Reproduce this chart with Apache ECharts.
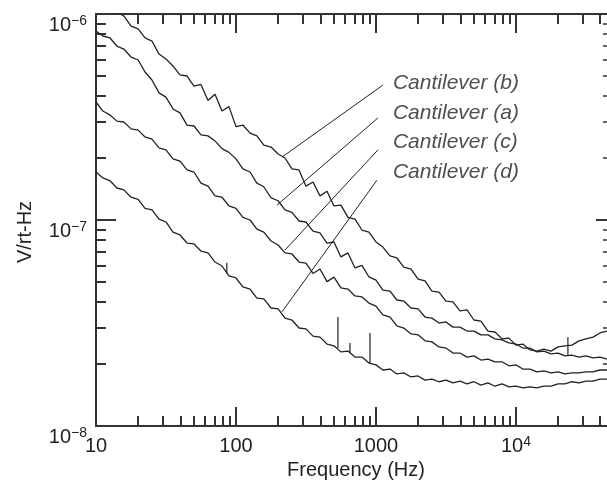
<!DOCTYPE html>
<html><head><meta charset="utf-8">
<script src="https://cdn.jsdelivr.net/npm/echarts@6/dist/echarts.min.js"></script>
<style>html,body{margin:0;padding:0;background:#fff}#c{width:607px;height:489px}</style>
</head><body><div id="c"></div>
<script>
// ---------- data ----------
const FREQ = [10,11.2,12.6,14.1,15.8,17.8,20,22.4,25.1,28.2,31.6,35.5,39.8,44.7,50.1,56.2,63.1,70.8,79.4,89.1,
 100,112,126,141,158,178,200,224,251,282,316,355,398,447,501,562,631,708,794,891,
 1000,1120,1260,1410,1580,1780,2000,2240,2510,2820,3160,3550,3980,4470,5010,5620,6310,7080,7940,8910,
 10000,11200,12600,14100,15800,17800,20000,22400,25100,28200,31600,35500,39800,44700];

const CANT_B = [1.26e-6,1.17e-6,1.12e-6,1.02e-6,9.78e-7,8.74e-7,8.46e-7,7.65e-7,7.39e-7,6.39e-7,
 6.05e-7,5.59e-7,5.06e-7,5.00e-7,4.47e-7,4.55e-7,3.80e-7,4.08e-7,3.38e-7,3.55e-7,
 2.84e-7,2.89e-7,2.64e-7,2.56e-7,2.31e-7,2.26e-7,2.09e-7,2.00e-7,1.77e-7,1.75e-7,
 1.46e-7,1.53e-7,1.31e-7,1.38e-7,1.17e-7,1.18e-7,1.03e-7,1.01e-7,8.94e-8,8.74e-8,
 7.82e-8,7.39e-8,6.69e-8,6.54e-8,5.91e-8,5.78e-8,5.17e-8,5.06e-8,4.52e-8,4.47e-8,
 4.04e-8,4.00e-8,3.62e-8,3.66e-8,3.27e-8,3.23e-8,2.89e-8,2.86e-8,2.65e-8,2.67e-8,
 2.47e-8,2.50e-8,2.34e-8,2.31e-8,2.36e-8,2.31e-8,2.42e-8,2.45e-8,2.47e-8,2.59e-8,
 2.65e-8,2.70e-8,2.83e-8,2.89e-8];

const CANT_A = [8.27e-7,7.82e-7,7.65e-7,6.99e-7,6.76e-7,6.18e-7,5.98e-7,5.23e-7,4.78e-7,4.14e-7,
 3.95e-7,3.46e-7,3.31e-7,2.89e-7,2.86e-7,2.59e-7,2.56e-7,2.42e-7,2.22e-7,2.13e-7,
 1.98e-7,1.77e-7,1.71e-7,1.51e-7,1.45e-7,1.28e-7,1.24e-7,1.12e-7,1.09e-7,9.89e-8,
 9.78e-8,8.84e-8,8.65e-8,7.73e-8,7.82e-8,6.62e-8,6.92e-8,5.85e-8,6.02e-8,5.29e-8,
 5.11e-8,4.57e-8,4.52e-8,4.09e-8,4.04e-8,3.74e-8,3.70e-8,3.38e-8,3.34e-8,3.16e-8,
 3.20e-8,3.02e-8,3.02e-8,2.89e-8,2.89e-8,2.77e-8,2.77e-8,2.65e-8,2.62e-8,2.53e-8,
 2.50e-8,2.39e-8,2.39e-8,2.29e-8,2.31e-8,2.24e-8,2.26e-8,2.19e-8,2.21e-8,2.16e-8,
 2.19e-8,2.14e-8,2.16e-8,2.11e-8];

const CANT_C = [3.74e-7,3.38e-7,3.23e-7,3.02e-7,2.99e-7,2.77e-7,2.73e-7,2.53e-7,2.47e-7,2.24e-7,
 2.19e-7,1.98e-7,1.93e-7,1.75e-7,1.71e-7,1.51e-7,1.46e-7,1.31e-7,1.29e-7,1.17e-7,
 1.14e-7,1.03e-7,1.00e-7,9.04e-8,8.74e-8,7.91e-8,7.56e-8,6.92e-8,6.84e-8,6.25e-8,
 6.18e-8,5.50e-8,5.78e-8,5.02e-8,5.28e-8,4.68e-8,4.62e-8,4.28e-8,4.23e-8,3.95e-8,
 3.82e-8,3.46e-8,3.38e-8,3.06e-8,2.99e-8,2.80e-8,2.77e-8,2.59e-8,2.56e-8,2.42e-8,
 2.39e-8,2.26e-8,2.26e-8,2.16e-8,2.19e-8,2.09e-8,2.11e-8,2.05e-8,2.05e-8,1.96e-8,
 1.98e-8,1.89e-8,1.89e-8,1.83e-8,1.85e-8,1.81e-8,1.83e-8,1.79e-8,1.81e-8,1.81e-8,
 1.83e-8,1.83e-8,1.87e-8,1.87e-8];

const CANT_D = [1.71e-7,1.60e-7,1.55e-7,1.43e-7,1.40e-7,1.29e-7,1.26e-7,1.14e-7,1.12e-7,1.01e-7,
 9.78e-8,8.74e-8,8.46e-8,7.73e-8,7.65e-8,7.07e-8,6.92e-8,6.25e-8,5.98e-8,5.35e-8,
 5.23e-8,4.73e-8,4.62e-8,4.18e-8,4.14e-8,3.74e-8,3.70e-8,3.34e-8,3.27e-8,2.99e-8,
 2.96e-8,2.73e-8,2.70e-8,2.50e-8,2.45e-8,2.29e-8,2.31e-8,2.16e-8,2.16e-8,2.02e-8,
 1.98e-8,1.87e-8,1.89e-8,1.79e-8,1.81e-8,1.73e-8,1.75e-8,1.67e-8,1.69e-8,1.64e-8,
 1.67e-8,1.62e-8,1.65e-8,1.60e-8,1.64e-8,1.58e-8,1.62e-8,1.56e-8,1.60e-8,1.55e-8,
 1.56e-8,1.53e-8,1.55e-8,1.53e-8,1.56e-8,1.56e-8,1.60e-8,1.60e-8,1.64e-8,1.62e-8,
 1.65e-8,1.65e-8,1.69e-8,1.69e-8];

// narrow spikes (frequency, base value, peak value)
const SPIKE_FREQ = [86, 535, 652, 906, 23500];
const SPIKE_BASE = [5.5e-8, 2.39e-8, 2.26e-8, 2.02e-8, 2.21e-8];
const SPIKE_TOP  = [6.2e-8, 3.38e-8, 2.53e-8, 2.83e-8, 2.70e-8];

// annotations
const LABEL_TEXT = ['Cantilever (b)', 'Cantilever (a)', 'Cantilever (c)', 'Cantilever (d)'];
const LABEL_FREQ = 1322;
const LABEL_VAL  = [4.62e-7, 3.31e-7, 2.39e-7, 1.71e-7];
const LEADER_FROM_F = [1122, 1033, 1033, 1016];
const LEADER_FROM_V = [4.52e-7, 3.13e-7, 2.19e-7, 1.56e-7];
const LEADER_TO_F   = [213, 196, 224, 213];
const LEADER_TO_V   = [2.02e-7, 1.18e-7, 7.15e-8, 3.58e-8];

// axes
const X_MIN = 10, X_MAX = 44700;
const Y_MIN = 1e-8, Y_MAX = 1e-6;
const X_MAJOR = [10, 100, 1000, 10000];
const X_MINOR = [20,30,40,50,60,70,80,90,200,300,400,500,600,700,800,900,
                 2000,3000,4000,5000,6000,7000,8000,9000,20000,30000,40000];
const X_LABELS = ['{b|10}', '{b|100}', '{b|1000}', '{b|10}{s|4}'];
const Y_MAJOR = [1e-8, 1e-7, 1e-6];
const Y_MINOR = [2e-8,3e-8,4e-8,5e-8,6e-8,7e-8,8e-8,9e-8,2e-7,3e-7,4e-7,5e-7,6e-7,7e-7,8e-7,9e-7];
const Y_LABELS = ['{b|10}{s|\u22128}', '{b|10}{s|\u22127}', '{b|10}{s|\u22126}'];

// ---------- chart ----------
const FAM = '"Liberation Sans", Arial, Helvetica, sans-serif';
const INK = '#222';
const AX = '#333';
const RICH = {
  b: {fontSize: 20, fontFamily: FAM, color: INK, lineHeight: 22},
  s: {fontSize: 14, fontFamily: FAM, color: INK, lineHeight: 14, verticalAlign: 'top'}
};
function nearestIdx(arr, v) {
  let best = 0, bd = Infinity;
  arr.forEach((a, i) => { const d = Math.abs(Math.log10(a) - Math.log10(v)); if (d < bd) { bd = d; best = i; } });
  return best;
}
function pairs(vals) { return FREQ.map((f, i) => [f, vals[i]]); }

const xBase = {type: 'log', logBase: 10, min: X_MIN, max: X_MAX, splitLine: {show: false},
  minorTick: {show: false}, minorSplitLine: {show: false}};
const yBase = {type: 'log', logBase: 10, min: Y_MIN, max: Y_MAX, splitLine: {show: false},
  minorTick: {show: false}, minorSplitLine: {show: false}};
function tick(len, vals, w) { return {show: true, inside: true, length: len, customValues: vals, lineStyle: {color: AX, width: w || 2}}; }
const noLine = {show: false, onZero: false};
const line2 = {show: true, onZero: false, lineStyle: {color: AX, width: 2}};

const xAxis = [
  Object.assign({}, xBase, {position: 'bottom', axisLine: line2, axisTick: tick(19, X_MAJOR),
    axisLabel: {show: true, customValues: X_MAJOR, margin: 9, color: INK, fontFamily: FAM, fontSize: 20,
      formatter: v => X_LABELS[nearestIdx(X_MAJOR, v)], rich: RICH},
    name: 'Frequency (Hz)', nameLocation: 'middle', nameGap: 34,
    nameTextStyle: {fontSize: 20, fontFamily: FAM, color: INK, padding: [0, 0, 0, 9]}}),
  Object.assign({}, xBase, {position: 'bottom', axisLine: noLine, axisTick: tick(10, X_MINOR), axisLabel: {show: false}}),
  Object.assign({}, xBase, {position: 'top', axisLine: line2, axisTick: tick(19, X_MAJOR), axisLabel: {show: false}}),
  Object.assign({}, xBase, {position: 'top', axisLine: noLine, axisTick: tick(10, X_MINOR), axisLabel: {show: false}})
];
const yAxis = [
  Object.assign({}, yBase, {position: 'left', axisLine: line2, axisTick: tick(20, Y_MAJOR),
    axisLabel: {show: true, customValues: Y_MAJOR, margin: 9, verticalAlign: 'top', color: INK, fontFamily: FAM, fontSize: 20,
      formatter: v => Y_LABELS[nearestIdx(Y_MAJOR, v)], rich: RICH},
    name: 'V/rt-Hz', nameLocation: 'middle', nameGap: 61,
    nameTextStyle: {fontSize: 20, fontFamily: FAM, color: INK, padding: [0, 24, 0, 0]}}),
  Object.assign({}, yBase, {position: 'left', axisLine: noLine, axisTick: tick(10, Y_MINOR), axisLabel: {show: false}}),
  Object.assign({}, yBase, {position: 'right', axisLine: noLine, axisTick: tick(11, Y_MAJOR), axisLabel: {show: false}}),
  Object.assign({}, yBase, {position: 'right', axisLine: noLine, axisTick: tick(4, Y_MINOR, 1.5), axisLabel: {show: false}})
];

const curveStyle = {color: INK, width: 1.3};
function curve(name, vals) {
  return {type: 'line', name, data: pairs(vals), showSymbol: false, symbol: 'none', clip: true,
    lineStyle: curveStyle, itemStyle: {color: INK}, silent: true, animation: false};
}
const spikeData = [];
SPIKE_FREQ.forEach((f, i) => { spikeData.push([f, SPIKE_BASE[i]], [f, SPIKE_TOP[i]], [f, '-']); });

const series = [
  curve('Cantilever (b)', CANT_B),
  curve('Cantilever (a)', CANT_A),
  curve('Cantilever (c)', CANT_C),
  curve('Cantilever (d)', CANT_D),
  {type: 'line', name: 'spikes', data: spikeData, showSymbol: false, symbol: 'none', connectNulls: false,
   lineStyle: {color: INK, width: 1.2}, silent: true, animation: false}
];
LABEL_TEXT.forEach((t, i) => {
  series.push({type: 'line', name: 'leader' + i, data: [[LEADER_FROM_F[i], LEADER_FROM_V[i]], [LEADER_TO_F[i], LEADER_TO_V[i]]],
    showSymbol: false, symbol: 'none', lineStyle: {color: INK, width: 1}, silent: true, animation: false});
});
series.push({type: 'scatter', name: 'labels', symbolSize: 0, silent: true, animation: false,
  data: LABEL_VAL.map((v, i) => ({value: [LABEL_FREQ, v], name: LABEL_TEXT[i]})),
  label: {show: true, position: 'right', distance: 0, formatter: p => p.name,
    fontSize: 21, fontStyle: 'italic', fontFamily: FAM, color: INK}});

const chart = echarts.init(document.getElementById('c'), null, {renderer: 'canvas'});
chart.setOption({
  backgroundColor: '#fff',
  animation: false,
  grid: {left: 96, right: 0, top: 14, bottom: 63, containLabel: false},
  xAxis, yAxis, series
});
</script></body></html>
